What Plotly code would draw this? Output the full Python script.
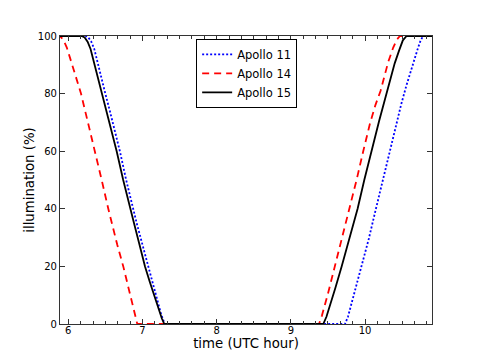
import plotly.graph_objects as go

# Apollo 11 (blue dotted)
a11_hour = [5.85, 6.234, 6.27, 6.31, 6.35, 6.396, 6.45, 6.504, 6.56, 6.62, 6.697, 6.78,
            6.868, 6.922, 7.0, 7.078, 7.14, 7.20, 7.25, 7.30,
            9.73, 9.77, 9.85, 9.954, 10.05, 10.147, 10.24, 10.335, 10.41, 10.49, 10.56,
            10.65, 10.71, 10.75, 10.784, 10.95]
a11_illum = [100, 100, 99.5, 98, 95.5, 90.5, 85, 79.5, 74, 68, 59.8, 50,
             40.2, 35, 27.5, 20, 14, 8.5, 3.5, 0,
             0, 2.5, 10, 20, 29.5, 40, 50, 60, 68.5, 76.5, 83,
             91, 95.5, 98.5, 100, 100]

# Apollo 14 (red dashed)
a14_hour = [5.84, 5.885, 5.93, 5.98, 6.046, 6.11, 6.171, 6.283, 6.36, 6.45, 6.539, 6.585,
            6.66, 6.741, 6.83, 6.88, 6.93,
            9.38, 9.42, 9.50, 9.594, 9.70, 9.796, 9.886, 9.976, 10.066, 10.14, 10.21,
            10.313, 10.38, 10.43, 10.47, 10.95]
a14_illum = [100, 100, 98.8, 96, 90.5, 85.5, 80, 68, 60, 50, 40, 35,
             27.5, 20, 10.5, 5, 0,
             0, 3, 10.5, 20, 30.5, 40.5, 50, 60, 69.5, 76, 81,
             91, 96, 98.8, 100, 100]

# Apollo 15 (black solid)
a15_hour = [5.85, 6.18, 6.22, 6.26, 6.30, 6.35, 6.40, 6.45, 6.52, 6.575, 6.652, 6.74,
            6.832, 6.886, 6.96, 7.034, 7.10, 7.16, 7.22, 7.26, 7.294,
            9.437, 9.48, 9.53, 9.60, 9.685, 9.79, 9.90, 9.99, 10.085, 10.19, 10.30,
            10.40, 10.46, 10.51, 10.56, 10.95]
a15_illum = [100, 100, 99.5, 98, 95.5, 90.5, 85.5, 80, 73, 68, 60, 50,
             40, 35, 27.5, 20, 14.5, 9.5, 5, 2, 0,
             0, 2.5, 6.5, 12.5, 20, 29.5, 40, 50, 60, 70.5, 81,
             90.5, 95, 98.5, 100, 100]

x_ticks = [6, 7, 8, 9, 10]
y_ticks = [0, 20, 40, 60, 80, 100]

fig = go.Figure()
fig.add_trace(go.Scatter(x=a11_hour, y=a11_illum, mode="lines", name="Apollo 11",
                         line=dict(color="#0000ff", width=1.8, dash="2px,2px")))
fig.add_trace(go.Scatter(x=a14_hour, y=a14_illum, mode="lines", name="Apollo 14",
                         line=dict(color="#ff0000", width=1.8, dash="7px,5px")))
fig.add_trace(go.Scatter(x=a15_hour, y=a15_illum, mode="lines", name="Apollo 15",
                         line=dict(color="#000000", width=1.8)))

axis_common = dict(showline=True, linecolor="#333333", linewidth=1.2, mirror="ticks",
                   ticks="inside", ticklen=5, tickcolor="#333333", showgrid=False,
                   zeroline=False, automargin=False,
                   tickfont=dict(size=10, color="black"))

fig.update_layout(
    width=480, height=360,
    margin=dict(l=60, r=48, t=36, b=36),
    paper_bgcolor="white", plot_bgcolor="white",
    font=dict(family="DejaVu Sans", color="black"),
    showlegend=True,
    legend=dict(x=0.366, y=0.99, xanchor="left", yanchor="top",
                bgcolor="white", bordercolor="black", borderwidth=1,
                font=dict(size=11.5), tracegroupgap=0, itemwidth=30),
    xaxis=dict(axis_common, range=[5.888, 10.903], tickvals=x_ticks,
               ticklabelstandoff=-3,
               minor=dict(dtick=1 / 6, tick0=6, ticks="inside", ticklen=2.5,
                          tickcolor="#333333"),
               title=dict(text="time (UTC hour)", font=dict(size=13.3), standoff=1)),
    yaxis=dict(axis_common, range=[0, 100], tickvals=y_ticks,
               title=dict(text="illumination (%)", font=dict(size=13.3), standoff=0)),
)

fig.write_html("out.html", config={"displayModeBar": False},
               post_script="document.body.style.margin='0';")
